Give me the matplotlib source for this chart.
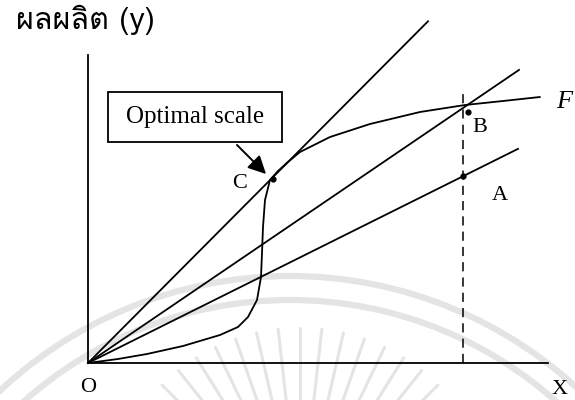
import matplotlib
matplotlib.use("Agg")
import matplotlib.pyplot as plt
from matplotlib import font_manager
from matplotlib.ft2font import FT2Font
from matplotlib.patches import Rectangle, FancyArrowPatch, Arc
import numpy as np

# ---------------- data (units: input X, output y) ----------------
ray_names = ["steep", "middle", "low"]
ray_slopes = [1.005, 0.68, 0.498]
ray_end_x = [34.0, 43.1, 43.0]

F_x = [0.0, 3.0, 5.9, 9.5, 13.2, 15.0, 16.0, 16.9, 17.3, 17.4, 17.5, 17.7, 18.2,
       19.0, 20.0, 21.2, 24.2, 28.2, 33.2, 37.7, 41.5, 45.2]
F_y = [0.0, 0.4, 0.9, 1.7, 2.8, 3.6, 4.6, 6.3, 8.6, 11.0, 13.6, 16.3, 18.3,
       19.2, 20.1, 21.1, 22.6, 23.9, 25.1, 25.8, 26.2, 26.6]

x_fixed = 37.5          # dashed vertical line (given input level)
x_axis_end = 46.0
y_axis_end = 30.8

point_labels = ["A", "B", "C"]
point_x = [37.5, 38.0, 18.5]
point_y = [18.7, 25.1, 18.4]

y_label = "ผลผลิต (y)"
x_label = "X"
box_text = "Optimal scale"


def find_family(ch):
    for fe in font_manager.fontManager.ttflist:
        try:
            f = FT2Font(fe.fname)
            if f.get_char_index(ord(ch)) != 0:
                return fe.name
        except Exception:
            pass
    return "DejaVu Sans"

thai_family = find_family("ผ")

fig = plt.figure(figsize=(5.75, 4.0), dpi=100)
ax = fig.add_axes([0, 0, 1, 1])
ax.set_xlim(-8.8, 48.7)
ax.set_ylim(-3.7, 36.3)
ax.axis("off")

# faint watermark (arcs + radiating strokes)
wm_color = "#e4e4e4"
wm_center = (20.2, -33.7)
for r in [42.4, 40.0]:
    ax.add_patch(Arc(wm_center, 2 * r, 2 * r, theta1=0, theta2=180,
                     color=wm_color, lw=4.5, zorder=0))
sun_c = (21.2, -16.0)
for ang in np.linspace(45, 135, 15):
    t = np.deg2rad(ang)
    ax.plot([sun_c[0] + 12.0 * np.cos(t), sun_c[0] + 19.5 * np.cos(t)],
            [sun_c[1] + 12.0 * np.sin(t), sun_c[1] + 19.5 * np.sin(t)],
            color=wm_color, lw=2.2, zorder=0, solid_capstyle="round")

lw = 1.3
# axes
ax.plot([0, 0], [0, y_axis_end], color="black", lw=lw)
ax.plot([0, x_axis_end], [0, 0], color="black", lw=lw)

# rays from origin
for s, xe in zip(ray_slopes, ray_end_x):
    ax.plot([0, xe], [0, s * xe], color="black", lw=lw)

# production function F
ax.plot(F_x, F_y, color="black", lw=lw, solid_capstyle="round")

# dashed vertical line
ax.plot([x_fixed, x_fixed], [0, 27.5], color="black", lw=1.1,
        linestyle=(0, (6, 4)))

# points
ax.scatter(point_x, point_y, s=12, color="black", zorder=5)

serif = "Liberation Serif"
ax.text(0.0, -2.4, "O", fontsize=16, family=serif, ha="center", va="center")
ax.text(47.2, -2.6, x_label, fontsize=16, family=serif, ha="center", va="center")
ax.text(41.2, 16.8, "A", fontsize=16, family=serif, ha="center", va="center")
ax.text(39.2, 23.5, "B", fontsize=16, family=serif, ha="center", va="center")
ax.text(15.2, 18.0, "C", fontsize=16, family=serif, ha="center", va="center")
ax.text(47.6, 26.1, "F", fontsize=19, family=serif, style="italic",
        ha="center", va="center")

ax.text(-0.3, 34.3, y_label, fontsize=22, family=[thai_family, "DejaVu Sans"],
        ha="center", va="center")

# Optimal scale box
ax.add_patch(Rectangle((2.0, 22.1), 17.4, 5.0, facecolor="white",
                       edgecolor="black", lw=1.3, zorder=4))
ax.text(10.7, 24.6, box_text, fontsize=18, family=serif, ha="center",
        va="center", zorder=5)
ax.add_patch(FancyArrowPatch((14.7, 22.0), (18.0, 18.7),
                             arrowstyle="-|>,head_length=0.9,head_width=0.45",
                             mutation_scale=12, color="black", lw=1.4,
                             zorder=5))

fig.savefig("out.png", dpi=100)
